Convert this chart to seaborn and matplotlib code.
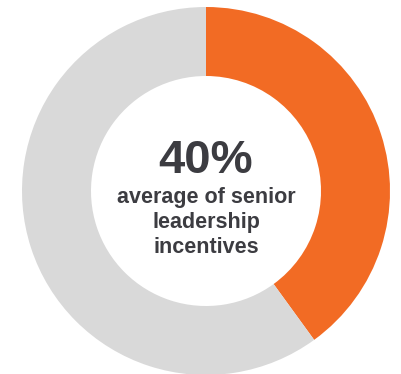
import matplotlib
matplotlib.use("Agg")
import matplotlib.pyplot as plt
import seaborn as sns

# Share of senior leadership incentives
segments = ["Incentive share", "Remainder"]
shares = [40, 60]
headline = "40%"
caption_lines = ["average of senior", "leadership", "incentives"]

sns.set_theme(style="white")
plt.rcParams["font.family"] = ["Liberation Sans", "DejaVu Sans"]

W, H = 401, 374
fig = plt.figure(figsize=(W / 100, H / 100), dpi=100)
ax = fig.add_axes([0, 0, 1, 1])

colors = ["#F26B24", "#D9D9D9"]
cx, cy = 206, H - 191
outer, inner = 184, 115
ax.pie(shares, colors=colors, startangle=90, counterclock=False,
       center=(cx, cy), radius=outer, frame=True,
       wedgeprops=dict(width=outer - inner, edgecolor="none", linewidth=0))
ax.set_xlim(0, W)
ax.set_ylim(0, H)
ax.set_aspect("equal")
ax.axis("off")

text_color = "#3C3C41"
ax.text(cx, H - 173, headline, ha="center", va="baseline",
        fontsize=34, fontweight="bold", color=text_color)
for line, base in zip(caption_lines, [203, 228, 253]):
    ax.text(cx, H - base, line, ha="center", va="baseline",
            fontsize=15.5, fontweight="bold", color=text_color)

fig.savefig("out.png", dpi=100)
